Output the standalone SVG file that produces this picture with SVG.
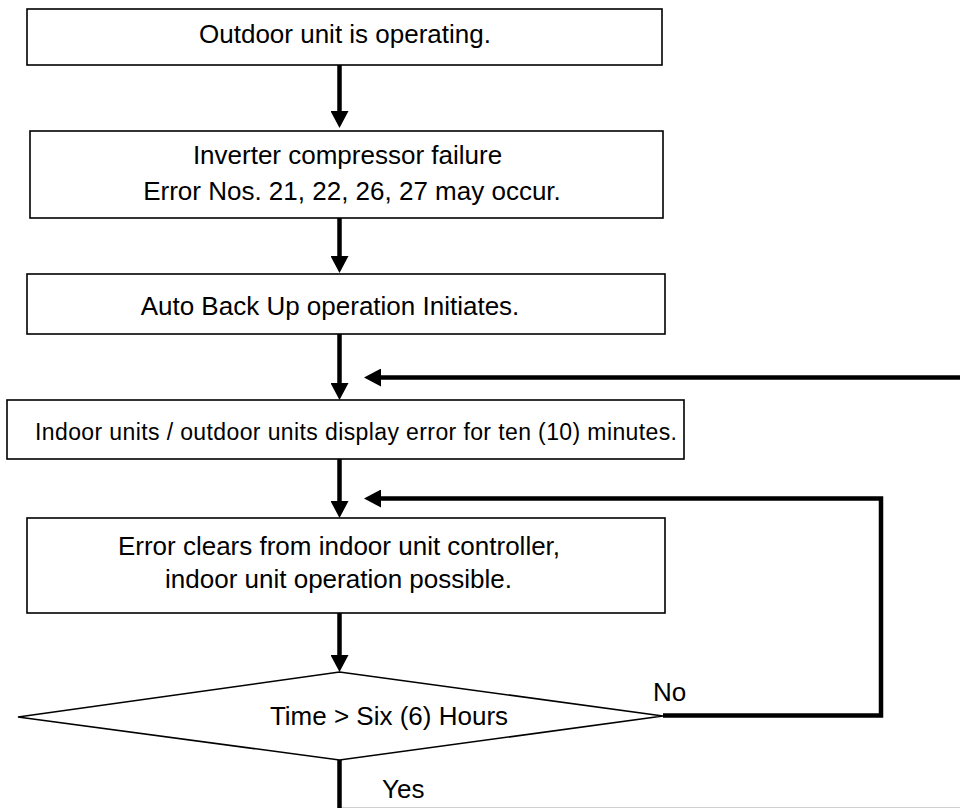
<svg xmlns="http://www.w3.org/2000/svg" width="960" height="808" viewBox="0 0 960 808">
<style>
.box{fill:#fff;stroke:#000;stroke-width:1.6}
.t{font-family:"Liberation Sans",Arial,sans-serif;font-size:26px;fill:#000;text-anchor:middle}
.ts{font-size:23px}
.lbl{text-anchor:start}
.c{fill:none;stroke:#000;stroke-width:4.5}
</style>
<defs>
<marker id="ah" viewBox="0 0 17 18" refX="1" refY="9" markerWidth="17" markerHeight="18" markerUnits="userSpaceOnUse" orient="auto">
<path d="M0,0 L17,9 L0,18 z" fill="#000"/>
</marker>
</defs>
<rect width="960" height="808" fill="#fff"/>
<line x1="340" y1="807.5" x2="960" y2="807.5" stroke="#d0d0d0" stroke-width="1"/>
<g id="connectors">
<path class="c" d="M339.5 65 V112" marker-end="url(#ah)"/>
<path class="c" d="M339.5 218 V257" marker-end="url(#ah)"/>
<path class="c" d="M339.5 334 V384" marker-end="url(#ah)"/>
<path class="c" d="M339.5 459 V502" marker-end="url(#ah)"/>
<path class="c" d="M339.5 613 V656" marker-end="url(#ah)"/>
<path class="c" d="M339.5 760 V808"/>
<path class="c" d="M960 377.5 H380" marker-end="url(#ah)"/>
<path class="c" d="M663 715.5 H881 V498.5 H380" marker-end="url(#ah)"/>
</g>
<g id="n1">
<rect class="box" x="27" y="9" width="635" height="56"/>
<text class="t" x="345" y="43">Outdoor unit is operating.</text>
</g>
<g id="n2">
<rect class="box" x="30" y="131" width="633" height="87"/>
<text class="t" x="347.5" y="164">Inverter compressor failure</text>
<text class="t" x="352" y="200">Error Nos. 21, 22, 26, 27 may occur.</text>
</g>
<g id="n3">
<rect class="box" x="27" y="274" width="638" height="60"/>
<text class="t" x="330" y="315">Auto Back Up operation Initiates.</text>
</g>
<g id="n4">
<rect class="box" x="7" y="400" width="677" height="59"/>
<text class="t ts" x="356" y="440" textLength="642">Indoor units / outdoor units display error for ten (10) minutes.</text>
</g>
<g id="n5">
<rect class="box" x="27" y="518" width="638" height="95"/>
<text class="t" x="339" y="555">Error clears from indoor unit controller,</text>
<text class="t" x="338.5" y="588">indoor unit operation possible.</text>
</g>
<g id="n6">
<polygon class="box" points="339.5,672 663,716 339.5,760 18,717"/>
<text class="t" x="389" y="725">Time &gt; Six (6) Hours</text>
</g>
<g id="labels">
<text class="t lbl" x="653" y="701">No</text>
<text class="t lbl" x="382" y="798">Yes</text>
</g>
</svg>
